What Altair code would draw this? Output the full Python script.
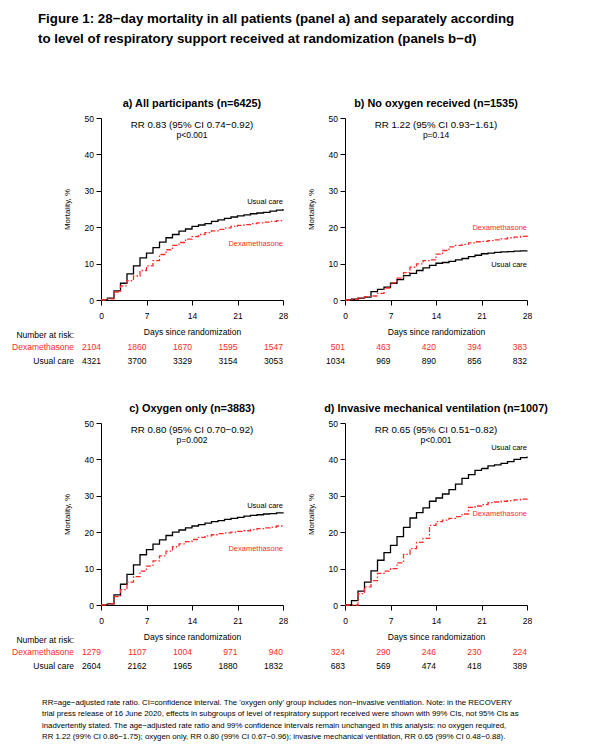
import altair as alt
import pandas as pd

RED = "#ff2a2a"
FONT = "Liberation Sans"
ARMS = ["Usual care", "Dexamethasone"]

days = list(range(29))
risk_days = [0, 7, 14, 21, 28]
y_ticks = [0, 10, 20, 30, 40, 50]

# cumulative mortality (%) by day
a_usual = [0, 0.5, 2.5, 4.6, 7.2, 9.4, 11.6, 12.9, 14.4, 15.9, 17.1, 18.0, 18.9, 19.5, 20.2,
           20.6, 21.0, 21.6, 22.0, 22.4, 22.8, 23.1, 23.4, 23.7, 23.9, 24.1, 24.4, 24.7, 25.0]
a_dexa = [0, 0.3, 2.2, 3.9, 5.3, 6.6, 8.1, 9.4, 10.8, 12.5, 13.8, 15.0, 15.8, 16.7, 17.4,
          18.0, 18.5, 19.0, 19.4, 19.8, 20.2, 20.5, 20.7, 21.0, 21.2, 21.4, 21.6, 21.8, 22.0]
b_usual = [0, 0.2, 0.5, 0.8, 2.3, 2.9, 3.5, 4.6, 5.6, 6.7, 7.3, 8.1, 8.8, 9.5, 10.1,
           10.3, 10.6, 11.0, 11.4, 11.9, 12.3, 12.7, 12.9, 13.1, 13.2, 13.3, 13.4, 13.5, 13.6]
b_dexa = [0, 0.2, 0.6, 0.9, 1.1, 1.8, 3.3, 4.7, 6.0, 7.5, 9.0, 9.9, 10.8, 11.0, 12.6,
          13.6, 14.6, 15.0, 15.3, 15.7, 16.0, 16.1, 16.3, 16.5, 16.8, 17.1, 17.3, 17.5, 17.7]
c_usual = [0, 0.3, 2.8, 5.7, 8.4, 11.0, 13.8, 15.2, 16.7, 17.9, 19.1, 20.0, 20.6, 21.2, 21.7,
           22.1, 22.5, 22.9, 23.2, 23.5, 23.8, 24.1, 24.4, 24.6, 24.8, 25.0, 25.1, 25.3, 25.5]
c_dexa = [0, 0.3, 2.3, 4.2, 6.3, 7.8, 9.3, 10.7, 12.1, 13.5, 14.8, 16.0, 16.8, 17.4, 18.0,
          18.6, 19.0, 19.3, 19.6, 19.8, 20.0, 20.2, 20.4, 20.7, 21.0, 21.2, 21.4, 21.7, 22.0]
d_usual = [0, 1.2, 3.8, 6.3, 9.4, 12.3, 14.4, 16.4, 18.8, 21.3, 23.9, 25.4, 26.7, 28.5, 29.4,
           30.5, 31.7, 33.2, 34.8, 35.8, 37.0, 37.5, 38.2, 38.5, 38.9, 39.4, 40.0, 40.5, 40.8]
d_dexa = [0, 0.0, 3.1, 5.0, 6.7, 8.7, 9.3, 10.0, 11.6, 13.9, 15.5, 17.2, 18.3, 21.9, 22.9,
          23.3, 23.8, 24.3, 25.0, 26.8, 27.2, 27.6, 28.1, 28.3, 28.5, 28.7, 28.9, 29.1, 29.3]

# number at risk
a_risk_dexa = [2104, 1860, 1670, 1595, 1547]
a_risk_usual = [4321, 3700, 3329, 3154, 3053]
b_risk_dexa = [501, 463, 420, 394, 383]
b_risk_usual = [1034, 969, 890, 856, 832]
c_risk_dexa = [1279, 1107, 1004, 971, 940]
c_risk_usual = [2604, 2162, 1965, 1880, 1832]
d_risk_dexa = [324, 290, 246, 230, 224]
d_risk_usual = [683, 569, 474, 418, 389]

fig_title = ["Figure 1: 28\u2212day mortality in all patients (panel a) and separately according",
             "to level of respiratory support received at randomization (panels b\u2212d)"]
footnote = [
    "RR=age\u2212adjusted rate ratio. CI=confidence interval. The 'oxygen only' group includes non\u2212invasive ventilation. Note: in the RECOVERY",
    "trial press release of 16 June 2020, effects in subgroups of level of respiratory support received were shown with 99% CIs, not 95% CIs as",
    "inadvertently stated. The age\u2212adjusted rate ratio and 99% confidence intervals remain unchanged in this analysis: no oxygen required,",
    "RR 1.22 (99% CI 0.86\u22121.75); oxygen only, RR 0.80 (99% CI 0.67\u22120.96); invasive mechanical ventilation, RR 0.65 (99% CI 0.48\u22120.88).",
]

x_scale = alt.Scale(domain=[0, 28], nice=False, zero=False)
y_scale = alt.Scale(domain=[0, 50], nice=False)
arm_color = alt.Scale(domain=ARMS, range=["black", RED])


def xday():
    return alt.X("day:Q", scale=x_scale,
                 axis=alt.Axis(values=risk_days, title="Days since randomization"))


def ymort():
    return alt.Y("mort:Q", scale=y_scale,
                 axis=alt.Axis(values=y_ticks, title="Mortality, %", titleFontSize=8))


def label(text, x, y, size=8.5, color="black", align="center", weight="normal", baseline="middle"):
    return alt.Chart(pd.DataFrame({"t": [text]})).mark_text(
        align=align, baseline=baseline, fontSize=size, font=FONT, fontWeight=weight, color=color
    ).encode(x=alt.value(x), y=alt.value(y), text="t:N")


def panel(title, usual, dexa, rr, p, risk_dexa, risk_usual, usual_y, dexa_y, left=False):
    curves = pd.DataFrame({"day": days + days, "mort": usual + dexa,
                           "arm": [ARMS[0]] * len(days) + [ARMS[1]] * len(days)})
    lines = alt.Chart(curves).mark_line(interpolate="step-after", strokeWidth=1.3).encode(
        x=xday(), y=ymort(),
        color=alt.Color("arm:N", scale=arm_color, legend=None),
        strokeDash=alt.StrokeDash("arm:N", scale=alt.Scale(domain=ARMS, range=[[1, 0], [5, 2, 1.5, 2]]),
                                  legend=None),
    )
    labs = pd.DataFrame({"day": [28, 28], "mort": [usual_y, dexa_y], "arm": ARMS})
    curve_labels = alt.Chart(labs).mark_text(align="right", baseline="middle", fontSize=7.5, font=FONT).encode(
        x=xday(), y=ymort(), text="arm:N",
        color=alt.Color("arm:N", scale=arm_color, legend=None),
    )
    risk_d = alt.Chart(pd.DataFrame({"day": risk_days, "n": risk_dexa})).mark_text(
        align="right", baseline="middle", fontSize=8.5, font=FONT, color=RED
    ).encode(x=xday(), y=alt.value(229), text="n:Q")
    risk_u = alt.Chart(pd.DataFrame({"day": risk_days, "n": risk_usual})).mark_text(
        align="right", baseline="middle", fontSize=8.5, font=FONT, color="black"
    ).encode(x=xday(), y=alt.value(242.5), text="n:Q")

    layers = [lines, curve_labels, risk_d, risk_u,
              label(title, 91, -14, size=10.9, weight="bold"),
              label(rr, 91, 6.8, size=9.7),
              label(p, 91, 16.8, size=8.5)]
    if left:
        layers += [label("Number at risk:", -27, 216.5, size=8.5, align="right"),
                   label("Dexamethasone", -27, 229, size=8.5, align="right", color=RED),
                   label("Usual care", -27, 242.5, size=8.5, align="right")]
    return alt.layer(*layers).properties(width=182, height=182)


pa = panel("a) All participants (n=6425)", a_usual, a_dexa,
           "RR 0.83 (95% CI 0.74\u22120.92)", "p<0.001", a_risk_dexa, a_risk_usual, 27.0, 15.3, left=True)
pb = panel("b) No oxygen received (n=1535)", b_usual, b_dexa,
           "RR 1.22 (95% CI 0.93\u22121.61)", "p=0.14", b_risk_dexa, b_risk_usual, 9.7, 19.7)
pc = panel("c) Oxygen only (n=3883)", c_usual, c_dexa,
           "RR 0.80 (95% CI 0.70\u22120.92)", "p=0.002", c_risk_dexa, c_risk_usual, 27.3, 15.5, left=True)
pd_ = panel("d) Invasive mechanical ventilation (n=1007)", d_usual, d_dexa,
            "RR 0.65 (95% CI 0.51\u22120.82)", "p<0.001", d_risk_dexa, d_risk_usual, 43.0, 25.1)

# figure title, and a white hairline that pins the top-left corner of the page
anchor = alt.Chart(pd.DataFrame({"a": [0]})).mark_rule(color="white", strokeWidth=1).encode(
    x=alt.value(-92), x2=alt.value(-90), y=alt.value(-109.5))
pa = alt.layer(pa, anchor,
               label(fig_title[0], -63, -95, size=13.3, align="left", weight="bold", baseline="alphabetic"),
               label(fig_title[1], -63, -75, size=13.3, align="left", weight="bold", baseline="alphabetic"))
pc = alt.layer(pc, *[label(t, -59, 279.5 + 11.6 * i, size=7.8, align="left") for i, t in enumerate(footnote)])

chart = alt.concat(
    pa, pb, pc, pd_, columns=2, spacing={"row": 123, "column": 62}, bounds="flush", padding=0
).configure_view(stroke=None).configure_axis(
    grid=False, domainColor="black", tickColor="black", labelColor="black", titleColor="black",
    labelFont=FONT, titleFont=FONT, labelFontSize=8.5, titleFontSize=8.5, titleFontWeight="normal",
    tickSize=5, labelFlush=False, labelOverlap=False
).configure_axisX(labelPadding=6, titlePadding=8).configure_axisY(labelPadding=2.5, titlePadding=13)

chart.save("out.html", embed_options={"renderer": "svg", "actions": False})
